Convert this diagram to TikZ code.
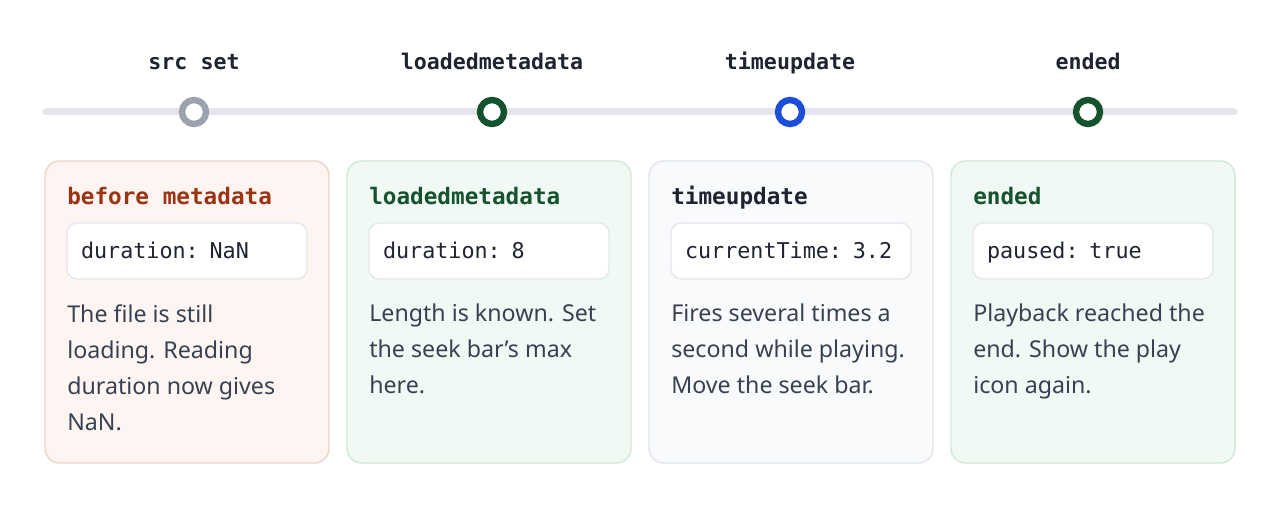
\documentclass[tikz,border=0pt]{standalone}
\usepackage{fontspec}
\setsansfont{Noto Sans}
\setmonofont{DejaVu Sans Mono}
\usetikzlibrary{positioning}

\definecolor{trackgray}{HTML}{E3E5EA}
\definecolor{dotgray}{HTML}{9CA3AF}
\definecolor{dotgreen}{HTML}{14532D}
\definecolor{dotblue}{HTML}{1D4ED8}
\definecolor{inkdark}{HTML}{1F2430}
\definecolor{inkbody}{HTML}{374151}
\definecolor{inkrust}{HTML}{9A3412}
\definecolor{warnfill}{HTML}{FEF5F3}
\definecolor{warnline}{HTML}{F2D3CB}
\definecolor{okfill}{HTML}{F0F9F3}
\definecolor{okline}{HTML}{D3EADB}
\definecolor{infofill}{HTML}{F8FAFC}
\definecolor{infoline}{HTML}{E2E5EA}
\definecolor{valline}{HTML}{E5E7EB}

\begin{document}
\begin{tikzpicture}[x=0.75pt,y=-0.75pt,
    track/.style={draw=trackgray,line width=5.25pt,line cap=round},
    dot/.style={circle,fill=white,line width=4.8pt,minimum size=18pt,inner sep=0pt},
    evt/.style={anchor=base,inner sep=0pt,font=\fontsize{16.2}{18}\selectfont\ttfamily\bfseries,text=inkdark},
    card/.style={rounded corners=11pt,line width=1.1pt,minimum width=213pt,minimum height=226.5pt},
    title/.style={anchor=base west,inner sep=0pt,font=\fontsize{17}{20}\selectfont\ttfamily\bfseries},
    valbox/.style={draw=valline,fill=white,rounded corners=7.5pt,line width=1.1pt,
      minimum height=42pt,text width=159pt,inner xsep=10.5pt,align=left,
      text height=15pt,text depth=3pt,
      font=\fontsize{16.3}{18}\selectfont\ttfamily,text=inkdark},
    body/.style={anchor=north west,inner sep=0pt,align=left,text=inkbody,
      font=\fontsize{17.4}{27}\selectfont\sffamily}]
  \useasboundingbox[fill=white] (0,0) rectangle (1280,516);

  % timeline
  \coordinate (trackL) at (46,111.5);
  \coordinate (trackR) at (1234,111.5);
  \draw[track] (trackL) -- (trackR);

  \node[dot,draw=dotgray] (dotSrc) at (194,112) {};
  \node[dot,draw=dotgreen] (dotMeta) at (492,112) {};
  \node[dot,draw=dotblue] (dotTime) at (790,112) {};
  \node[dot,draw=dotgreen] (dotEnd) at (1088,112) {};

  \node[evt] (evtSrc) at (194,70) {src set};
  \node[evt] (evtMeta) at (492,70) {loadedmetadata};
  \node[evt] (evtTime) at (790,70) {timeupdate};
  \node[evt] (evtEnd) at (1088,70) {ended};

  % cards
  \node[card,draw=warnline,fill=warnfill] (cardSrc) at (187,312) {};
  \node[card,draw=okline,fill=okfill] (cardMeta) at (489,312) {};
  \node[card,draw=infoline,fill=infofill] (cardTime) at (791,312) {};
  \node[card,draw=okline,fill=okfill] (cardEnd) at (1093,312) {};

  \node[title,text=inkrust] (titleSrc) at (67,205) {before metadata};
  \node[title,text=dotgreen] (titleMeta) at (369,205) {loadedmetadata};
  \node[title,text=inkdark] (titleTime) at (671,205) {timeupdate};
  \node[title,text=dotgreen] (titleEnd) at (973,205) {ended};

  \node[valbox] (valSrc) at (187,251) {duration: NaN};
  \node[valbox] (valMeta) at (489,251) {duration: 8};
  \node[valbox] (valTime) at (791,251) {currentTime: 3.2};
  \node[valbox] (valEnd) at (1093,251) {paused: true};

  \node[body] (bodySrc) at (67,304) {The file is still\\loading. Reading\\duration now gives\\NaN.};
  \node[body] (bodyMeta) at (369,304) {Length is known. Set\\the seek bar's max\\here.};
  \node[body] (bodyTime) at (671,304) {Fires several times a\\second while playing.\\Move the seek bar.};
  \node[body] (bodyEnd) at (973,304) {Playback reached the\\end. Show the play\\icon again.};
\end{tikzpicture}
\end{document}
